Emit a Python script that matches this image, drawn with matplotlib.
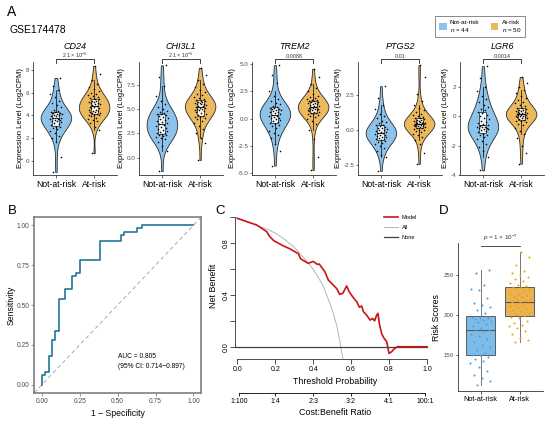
import numpy as np
import matplotlib.pyplot as plt
from matplotlib.patches import Patch
from matplotlib.lines import Line2D

plt.rcParams['font.family'] = ['Liberation Sans', 'DejaVu Sans']
plt.rcParams['mathtext.fontset'] = 'custom'
plt.rcParams['mathtext.rm'] = 'Liberation Sans'
plt.rcParams['mathtext.it'] = 'Liberation Sans:italic'

# ---- data ----
groups = ['Not-at-risk', 'At-risk']
n_groups = [44, 50]
genes = ['CD24', 'CHI3L1', 'TREM2', 'PTGS2', 'LGR6']
gene_p = [r'2.1 × 10$^{-5}$', r'2.1 × 10$^{-5}$', '0.0088', '0.01', '0.0014']

cd24_not = [-1.0, 0.35, 1.6, 2.0, 2.2, 2.4, 2.6, 2.8, 2.9, 3.0, 3.0, 3.1, 3.2, 3.3, 3.4,
            3.5, 3.5, 3.6, 3.6, 3.7, 3.7, 3.75, 3.8, 3.9, 3.9, 4.0, 4.0, 4.1, 4.1, 4.2,
            4.2, 4.3, 4.3, 4.4, 4.5, 4.7, 4.9, 5.1, 5.3, 5.6, 5.9, 6.2, 6.6, 7.3]
cd24_at = [0.65, 2.7, 3.0, 3.3, 3.5, 3.6, 3.7, 3.8, 3.9, 4.0, 4.0, 4.05, 4.1, 4.2, 4.2,
           4.3, 4.3, 4.4, 4.4, 4.5, 4.5, 4.6, 4.6, 4.7, 4.75, 4.85, 4.9, 5.0, 5.0, 5.1,
           5.1, 5.2, 5.2, 5.3, 5.3, 5.4, 5.4, 5.5, 5.6, 5.7, 5.8, 5.9, 6.0, 6.1, 6.3,
           6.5, 6.8, 7.1, 7.6, 8.36]
chi3l1_not = [-1.4, 0.7, 1.2, 1.6, 1.9, 2.0, 2.1, 2.2, 2.3, 2.35, 2.4, 2.5, 2.6, 2.7, 2.8,
              2.9, 3.0, 3.1, 3.2, 3.3, 3.35, 3.45, 3.6, 3.7, 3.8, 3.9, 4.0, 4.1, 4.2, 4.3,
              4.4, 4.5, 4.55, 4.6, 4.7, 4.8, 5.0, 5.2, 5.5, 5.9, 6.4, 7.4, 8.3, 9.55]
chi3l1_at = [-0.24, 1.5, 2.0, 2.6, 3.0, 3.3, 3.6, 3.8, 4.0, 4.1, 4.2, 4.25, 4.3, 4.4, 4.5,
             4.6, 4.7, 4.8, 4.9, 4.95, 5.0, 5.05, 5.1, 5.15, 5.2, 5.3, 5.35, 5.4, 5.5, 5.55,
             5.6, 5.65, 5.7, 5.75, 5.8, 5.85, 5.9, 6.0, 6.1, 6.2, 6.3, 6.45, 6.6, 6.8, 7.0,
             7.3, 7.6, 8.0, 8.6, 9.3]
trem2_not = [-4.3, -3.0, -2.3, -1.8, -1.5, -1.3, -1.1, -0.9, -0.7, -0.6, -0.5, -0.4, -0.3,
             -0.2, -0.1, 0.0, 0.05, 0.1, 0.15, 0.2, 0.25, 0.3, 0.4, 0.5, 0.6, 0.65, 0.7,
             0.75, 0.8, 0.85, 0.9, 0.95, 1.0, 1.1, 1.2, 1.3, 1.45, 1.6, 1.8, 2.1, 2.5, 3.3,
             4.0, 4.9]
trem2_at = [-4.7, -3.5, -1.9, -1.0, -0.5, -0.2, 0.0, 0.15, 0.25, 0.35, 0.4, 0.45, 0.5, 0.55,
            0.6, 0.65, 0.7, 0.75, 0.8, 0.82, 0.85, 0.88, 0.9, 0.95, 1.0, 1.05, 1.1, 1.15,
            1.2, 1.25, 1.3, 1.35, 1.4, 1.45, 1.5, 1.55, 1.6, 1.65, 1.7, 1.75, 1.8, 1.9, 2.0,
            2.1, 2.3, 2.5, 2.8, 3.2, 3.8, 4.57]
ptgs2_not = [-2.9, -1.9, -1.75, -1.5, -1.3, -1.1, -1.0, -0.9, -0.8, -0.75, -0.7, -0.65,
             -0.6, -0.55, -0.5, -0.45, -0.4, -0.35, -0.3, -0.25, -0.22, -0.2, -0.15, -0.1,
             -0.05, 0.0, 0.05, 0.1, 0.15, 0.2, 0.25, 0.3, 0.35, 0.4, 0.5, 0.6, 0.7, 0.85,
             1.0, 1.2, 1.5, 1.8, 2.3, 3.17]
ptgs2_at = [-2.4, -1.6, -1.0, -0.7, -0.5, -0.35, -0.25, -0.15, -0.05, 0.0, 0.05, 0.1, 0.15,
            0.2, 0.22, 0.25, 0.28, 0.3, 0.32, 0.35, 0.37, 0.4, 0.42, 0.45, 0.48, 0.5, 0.52,
            0.55, 0.58, 0.6, 0.63, 0.66, 0.7, 0.73, 0.77, 0.8, 0.85, 0.9, 0.95, 1.0, 1.1,
            1.2, 1.3, 1.45, 1.6, 1.8, 2.1, 2.6, 3.85, 4.66]
lgr6_not = [-3.7, -2.8, -2.4, -2.1, -1.9, -1.7, -1.55, -1.4, -1.3, -1.25, -1.2, -1.1, -1.0,
            -0.95, -0.9, -0.85, -0.8, -0.78, -0.75, -0.72, -0.7, -0.65, -0.6, -0.5, -0.45,
            -0.4, -0.3, -0.2, -0.1, 0.0, 0.1, 0.2, 0.3, 0.4, 0.5, 0.65, 0.8, 1.0, 1.2, 1.4,
            1.7, 2.0, 2.6, 3.43]
lgr6_at = [-3.25, -2.5, -2.0, -1.5, -1.2, -1.0, -0.8, -0.6, -0.5, -0.4, -0.35, -0.3, -0.25,
           -0.2, -0.15, -0.1, -0.05, -0.02, 0.0, 0.02, 0.05, 0.08, 0.1, 0.12, 0.15, 0.18,
           0.2, 0.22, 0.25, 0.28, 0.3, 0.33, 0.36, 0.4, 0.45, 0.5, 0.55, 0.6, 0.7, 0.8, 0.9,
           1.0, 1.1, 1.25, 1.4, 1.6, 1.8, 2.0, 2.3, 2.7]

expr_not = [cd24_not, chi3l1_not, trem2_not, ptgs2_not, lgr6_not]
expr_at = [cd24_at, chi3l1_at, trem2_at, ptgs2_at, lgr6_at]

# ROC curve vertices (1 - specificity, sensitivity)
roc_fpr = [0, 0, 0.022, 0.044, 0.066, 0.088, 0.11, 0.155, 0.20, 0.227, 0.25, 0.386,
           0.52, 0.54, 0.63, 0.66, 1.0]
roc_tpr = [0, 0.06, 0.08, 0.18, 0.28, 0.34, 0.54, 0.60, 0.68, 0.70, 0.78, 0.90,
           0.94, 0.96, 0.98, 1.0, 1.0]
auc_text = 'AUC = 0.805\n(95% CI: 0.714−0.897)'

# decision curve
dca_thr = [0, 0.049, 0.102, 0.155, 0.172, 0.193, 0.243, 0.274, 0.304, 0.322, 0.334, 0.374,
           0.40, 0.422, 0.432, 0.462, 0.48, 0.506, 0.524, 0.54, 0.556, 0.577, 0.59, 0.608,
           0.63, 0.644, 0.656, 0.665, 0.682, 0.70, 0.714, 0.724, 0.735, 0.742, 0.749, 0.761,
           0.774, 0.788, 0.80, 0.814, 0.826, 0.844, 1.0]
dca_model = [0.994, 0.968, 0.942, 0.89, 0.85, 0.82, 0.78, 0.76, 0.735, 0.72, 0.68, 0.645,
             0.66, 0.637, 0.64, 0.58, 0.516, 0.477, 0.45, 0.405, 0.413, 0.47, 0.426, 0.387,
             0.348, 0.305, 0.315, 0.271, 0.245, 0.206, 0.219, 0.2, 0.245, 0.258, 0.18, 0.103,
             0.065, 0.039, -0.052, -0.039, -0.018, 0.0, 0.0]
all_thr = [0, 0.05, 0.10, 0.155, 0.20, 0.25, 0.30, 0.35, 0.40, 0.45, 0.50, 0.525, 0.54, 0.56]
all_nb = [0.99, 0.97, 0.94, 0.91, 0.88, 0.83, 0.77, 0.69, 0.60, 0.48, 0.29, 0.16, 0.05, -0.12]
cb_pos = [0.01, 0.2, 0.4, 0.6, 0.8, 0.99]
cb_labels = ['1:100', '1:4', '2:3', '3:2', '4:1', '100:1']

# risk scores
risk_not = [113, 118, 122, 126, 131, 135, 140, 143, 146, 148, 150, 151, 153, 156, 160, 163,
            166, 170, 174, 177, 180, 181, 182, 184, 186, 189, 191, 193, 194, 195, 196, 197,
            198, 203, 206, 210, 213, 215, 221, 231, 233, 238, 253, 256]
risk_at = [166, 169, 172, 177, 180, 184, 187, 188, 190, 193, 196, 198, 199, 201, 203, 205,
           206, 208, 210, 211, 212, 213, 215, 216, 216, 217, 219, 220, 222, 223, 225, 226,
           228, 230, 232, 233, 234, 235, 236, 238, 240, 243, 245, 247, 250, 253, 255, 262,
           272, 279]
risk_p = r'$p$ = 1 × 10$^{-7}$'

BLUE = '#8DC3EA'
ORANGE = '#EDB95E'

W, H = 550, 423
fig = plt.figure(figsize=(W / 100, H / 100), dpi=100)


def px_box(l, t, r, b):
    return [l / W, 1 - b / H, (r - l) / W, (b - t) / H]


def jitter(n, width):
    return ((np.arange(n) * 0.618034 + 0.3) % 1 - 0.5) * 2 * width


def violin(ax, vals, pos, color):
    vals = np.asarray(vals, dtype=float)
    parts = ax.violinplot(vals, positions=[pos], widths=0.8, showextrema=False)
    for body in parts['bodies']:
        body.set_facecolor(color)
        body.set_edgecolor('#2b2b2b')
        body.set_linewidth(0.6)
        body.set_alpha(1)
    ax.boxplot(vals, positions=[pos], widths=0.18, patch_artist=True, showfliers=False,
               boxprops=dict(facecolor='white', edgecolor='black', lw=0.5, alpha=0.85),
               medianprops=dict(color='black', lw=0.6),
               whiskerprops=dict(color='black', lw=0.5), capprops=dict(lw=0))
    ax.scatter(pos + jitter(len(vals), 0.16), vals, s=1.3, color='black', lw=0, zorder=4)


# ---- panel A ----
fig.text(7 / W, 1 - 16 / H, 'A', fontsize=10, va='baseline')
fig.text(9 / W, 1 - 33 / H, 'GSE174478', fontsize=7.5, va='baseline')

lefts = [33, 139, 252, 358, 460]
ylims = [(-1.27, 8.7), (-1.8, 9.9), (-5.16, 5.19), (-3.2, 4.9), (-4.02, 3.72)]
yticks = [[0, 2, 4, 6, 8], [0, 2.5, 5, 7.5], [-5, -2.5, 0, 2.5, 5], [-2.5, 0, 2.5],
          [-4, -2, 0, 2]]
yfmt = ['%d', '%.1f', '%.1f', '%.1f', '%d']

for i, gene in enumerate(genes):
    ax = fig.add_axes(px_box(lefts[i], 62, lefts[i] + 84, 175))
    violin(ax, expr_not[i], 1, BLUE)
    violin(ax, expr_at[i], 2, ORANGE)
    ax.set_xlim(0.4, 2.6)
    ax.set_ylim(*ylims[i])
    ax.set_yticks(yticks[i])
    ax.set_yticklabels([yfmt[i] % v for v in yticks[i]])
    ax.set_xticks([1, 2])
    ax.set_xticklabels(groups)
    for s in ['top', 'right']:
        ax.spines[s].set_visible(False)
    for s in ['left', 'bottom']:
        ax.spines[s].set_linewidth(0.6)
        ax.spines[s].set_color('#333333')
    ax.tick_params(axis='y', length=1.8, width=0.5, labelsize=4.5, labelcolor='#4D4D4D',
                   pad=1, color='#333333')
    ax.tick_params(axis='x', length=1.8, width=0.5, labelsize=6.2, pad=1.5,
                   color='#333333')
    ax.set_ylabel('Expression Level (Log2CPM)', fontsize=5.5, labelpad=1)
    tr = ax.get_xaxis_transform()
    ax.plot([1, 1, 2, 2], [0.989, 1.024, 1.024, 0.989], transform=tr, clip_on=False,
            color='#222222', lw=0.6)
    ax.text(1.5, 1.038, gene_p[i], transform=tr, ha='center', va='baseline', fontsize=3.9,
            color='#333333')
    ax.text(1.5, 1.118, gene, transform=tr, ha='center', va='baseline', fontsize=6.5,
            style='italic')

handles = [Patch(facecolor=BLUE, edgecolor='none'), Patch(facecolor=ORANGE, edgecolor='none')]
labels = [f'{groups[0]}\n$n$ = {n_groups[0]}', f'{groups[1]}\n$n$ = {n_groups[1]}']
fig.legend(handles, labels, ncol=2, loc='upper right', bbox_to_anchor=(528 / W, 1 - 13 / H),
           fontsize=4.6, frameon=True, fancybox=False, edgecolor='#555555',
           handlelength=1.2, handleheight=1.4, handletextpad=0.5, columnspacing=1.8,
           borderpad=0.55).get_frame().set_linewidth(0.6)

# ---- panel B ----
fig.text(8.3 / W, 1 - 214 / H, 'B', fontsize=9.5, va='baseline')
axB = fig.add_axes(px_box(34.3, 217.3, 201, 392.7))
axB.axline((0, 0), (1, 1), color='#AAAAAA', ls=(0, (4, 3)), lw=0.7)
axB.step(roc_fpr, roc_tpr, where='post', color='#21759B', lw=1.2)
axB.set_xlim(-0.05, 1.05)
axB.set_ylim(-0.05, 1.05)
ticks = [0, 0.25, 0.5, 0.75, 1.0]
axB.set_xticks(ticks)
axB.set_yticks(ticks)
axB.set_xticklabels(['%.2f' % t for t in ticks])
axB.set_yticklabels(['%.2f' % t for t in ticks])
for s in axB.spines.values():
    s.set_color('#7F7F7F')
    s.set_linewidth(1.2)
axB.tick_params(length=2, width=0.6, color='#7F7F7F', labelsize=4.8, labelcolor='#4D4D4D',
                pad=1.5)
axB.set_xlabel('1 − Specificity', fontsize=6.2, labelpad=3)
axB.set_ylabel('Sensitivity', fontsize=6.2, labelpad=1)
axB.text(0.5, 0.2, auc_text, fontsize=4.8, va='top', ha='left', linespacing=1.6)

# ---- panel C ----
fig.text(215 / W, 1 - 214 / H, 'C', fontsize=9.5, va='baseline')
axC = fig.add_axes(px_box(235.4, 212.3, 434.5, 359.4))
axC.plot(all_thr, all_nb, color='#B5B5B5', lw=0.7)
axC.plot([-0.01, 1.0], [0, 0], color='#404040', lw=0.9)
axC.plot(dca_thr, dca_model, color='#CC1414', lw=1.2)
axC.set_xlim(-0.01, 1.04)
axC.set_ylim(-0.098, 1.04)
axC.set_xticks([0, 0.2, 0.4, 0.6, 0.8, 1.0])
axC.set_xticklabels(['0.0', '0.2', '0.4', '0.6', '0.8', '1.0'])
axC.set_yticks([0, 0.2, 0.4, 0.6, 0.8, 1.0])
axC.set_yticklabels(['0.0', '', '0.4', '', '0.8', ''])
for s in ['top', 'right']:
    axC.spines[s].set_visible(False)
axC.spines['left'].set_bounds(0, 1.0)
axC.spines['bottom'].set_bounds(0, 1.0)
for s in ['left', 'bottom']:
    axC.spines[s].set_linewidth(0.6)
    axC.spines[s].set_color('#333333')
axC.tick_params(length=3.4, width=0.6, labelsize=5, pad=1, color='#333333')
axC.tick_params(axis='y', labelrotation=90)
for lab in axC.get_yticklabels():
    lab.set_va('center')
axC.set_xlabel('Threshold Probability', fontsize=6.4, labelpad=3)
axC.set_ylabel('Net Benefit', fontsize=6.4, labelpad=3)
sec = axC.secondary_xaxis(-0.2264)
sec.set_xticks(cb_pos)
sec.set_xticklabels(cb_labels)
sec.spines['bottom'].set_bounds(cb_pos[0], cb_pos[-1])
sec.spines['bottom'].set_linewidth(0.6)
sec.tick_params(length=2.5, width=0.6, labelsize=5, pad=1.5)
sec.set_xlabel('Cost:Benefit Ratio', fontsize=6.4, labelpad=2)
leg_h = [Line2D([], [], color='#CC1414', lw=1.2), Line2D([], [], color='#B5B5B5', lw=0.7),
         Line2D([], [], color='#404040', lw=0.9)]
axC.legend(leg_h, ['Model', 'All', 'None'], loc='upper left',
           bbox_to_anchor=(379 / W, 1 - 210 / H), bbox_transform=fig.transFigure,
           frameon=False, fontsize=4, handlelength=2.6, handletextpad=0.6,
           labelspacing=0.9)

# ---- panel D ----
fig.text(439 / W, 1 - 214 / H, 'D', fontsize=9.5, va='baseline')
axD = fig.add_axes(px_box(457.5, 243.3, 543, 391))
for pos, vals, face, dot in [(1, risk_not, '#7DBCE8', '#3FA3E6'),
                             (2, risk_at, '#E9B352', '#F29D16')]:
    axD.boxplot(vals, positions=[pos], widths=0.75, patch_artist=True, showfliers=False,
                boxprops=dict(facecolor=face, edgecolor='#5A5A5A', lw=0.7),
                medianprops=dict(color='#555555', lw=0.8),
                whiskerprops=dict(color='#777777', lw=0.7), capprops=dict(lw=0))
    axD.scatter(pos + jitter(len(vals), 0.27), vals, s=2.2, color=dot, lw=0, zorder=4)
axD.set_xlim(0.4, 2.6)
axD.set_ylim(105.6, 289.4)
axD.set_yticks([150, 200, 250])
axD.set_xticks([1, 2])
axD.set_xticklabels(groups)
for s in ['top', 'right']:
    axD.spines[s].set_visible(False)
for s in ['left', 'bottom']:
    axD.spines[s].set_linewidth(0.6)
    axD.spines[s].set_color('#333333')
axD.tick_params(axis='y', length=1.8, width=0.5, labelsize=4.4, labelcolor='#4D4D4D', pad=1)
axD.tick_params(axis='x', length=1.8, width=0.5, labelsize=5.3, pad=1.5)
axD.set_ylabel('Risk Scores', fontsize=6.3, labelpad=2)
axD.plot([1, 2], [286, 286], color='#333333', lw=0.6, clip_on=False)
axD.text(1.5, 290, risk_p, ha='center', va='bottom', fontsize=4.5, color='#333333')

fig.savefig('out.png', dpi=100)
